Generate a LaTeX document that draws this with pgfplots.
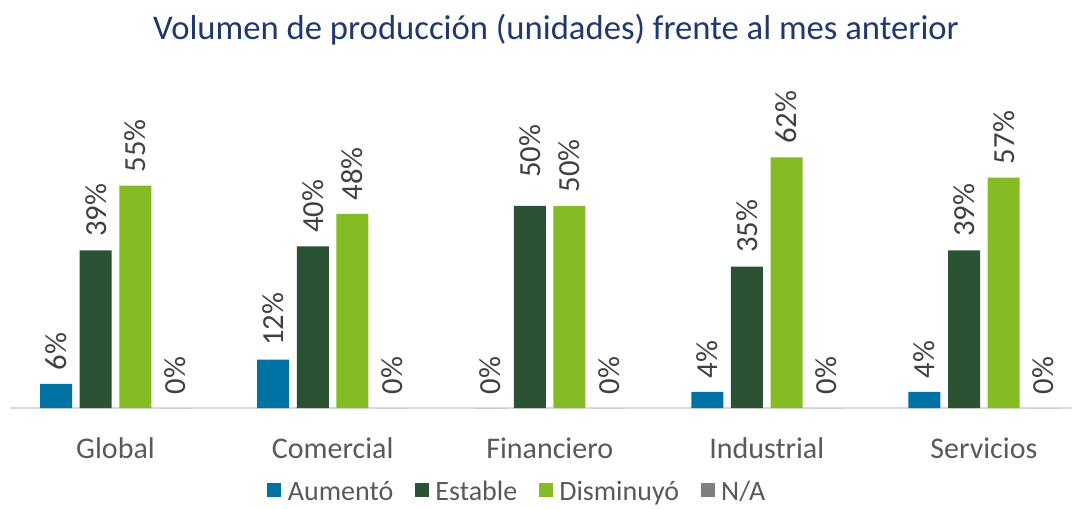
\documentclass[border=0pt]{standalone}
\usepackage{pgfplots}
\usepackage{pgfplotstable}
\pgfplotsset{compat=1.18}
\usepackage{fontspec}
\setmainfont{Carlito}
\definecolor{aum}{RGB}{0,114,163}
\definecolor{est}{RGB}{44,82,52}
\definecolor{dis}{RGB}{133,187,37}
\definecolor{na}{RGB}{127,127,127}
\definecolor{titlec}{RGB}{32,56,110}
\definecolor{tickc}{RGB}{89,89,89}
\definecolor{lblc}{RGB}{64,64,64}
\definecolor{axc}{RGB}{217,217,217}

% x = category index, y = percent, g = gap between bar top and label (pt)
\pgfplotstableread{
x y g
0 6 10
1 12 10
2 0 10
3 4 10
4 4 10
}\aumtab
\pgfplotstableread{
x y g
0 39 10
1 40 10
2 50 21
3 35 10
4 39 10
}\esttab
\pgfplotstableread{
x y g
0 55 10
1 48 10
2 50 10
3 62 10
4 57 10
}\distab
\pgfplotstableread{
x y g
0 0 10
1 0 10
2 0 10
3 0 10
4 0 10
}\natab

\begin{document}
\begin{tikzpicture}
\useasboundingbox (-7.5pt,-75pt) rectangle (801.75pt,306pt);
\begin{axis}[ybar=5.7pt,bar width=24pt,
  scale only axis,width=796.5pt,height=261pt,
  xmin=-0.486,xmax=4.406,ymin=0,ymax=86.1,clip=false,
  axis x line=bottom,axis y line=none,
  x axis line style={draw=axc,line width=1pt,-},
  xtick={0,...,4},xticklabels={Global,Comercial,Financiero,Industrial,Servicios},
  major tick length=0pt,ytick=\empty,
  xticklabel style={font=\fontsize{22.5}{23}\selectfont,text=tickc,inner sep=0pt,yshift=-22pt},
  visualization depends on={\thisrow{g} \as \gap},
  nodes near coords={\pgfmathprintnumber[assume math mode=true]{\pgfplotspointmeta}\%},
  nodes near coords style={rotate=90,anchor=west,inner ysep=0pt,inner xsep=\gap pt,
    font=\fontsize{23}{23}\selectfont,text=lblc},
  legend style={at={(0.478,-0.241)},anchor=center,draw=none,legend columns=4,
    font=\fontsize{21}{21}\selectfont,text=tickc,
    /tikz/every odd column/.append style={column sep=3pt},
    /tikz/every even column/.append style={column sep=14pt}},
  legend image code/.code={\fill[#1] (0pt,-4pt) rectangle (10.5pt,6.5pt);},
]
\addplot[fill=aum,draw=none] table[x=x,y=y] {\aumtab};
\addplot[fill=est,draw=none] table[x=x,y=y] {\esttab};
\addplot[fill=dis,draw=none] table[x=x,y=y] {\distab};
\addplot[fill=na,draw=none] table[x=x,y=y] {\natab};
\legend{Aumentó,Estable,Disminuyó,N/A}
\end{axis}
\node[text=titlec,font=\fontsize{26}{27}\selectfont] at (409.5pt,283.5pt)
  {Volumen de producción (unidades) frente al mes anterior};
\end{tikzpicture}
\end{document}
